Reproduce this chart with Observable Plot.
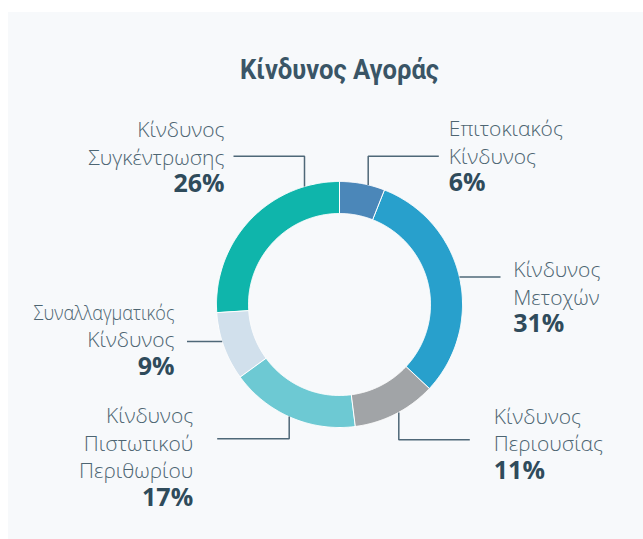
<!DOCTYPE html>
<html><head><meta charset="utf-8">
<script src="https://cdn.jsdelivr.net/npm/d3@7"></script>
<script src="https://cdn.jsdelivr.net/npm/@observablehq/plot@0.6"></script>
<style>
html,body{margin:0;padding:0;background:#fff;}
#wrap{position:relative;width:643px;height:539px;overflow:hidden;}
#panel{position:absolute;left:8px;top:12px;width:635px;height:527px;background:#f7f9fb;}
#chart{position:absolute;left:0;top:0;}
</style></head><body>
<div id="wrap"><div id="panel"></div><div id="chart"></div></div>
<script>
// ---- data ----
const title = "Κίνδυνος Αγοράς";
const categories = ["Επιτοκιακός Κίνδυνος","Κίνδυνος Μετοχών","Κίνδυνος Περιουσίας","Κίνδυνος Πιστωτικού Περιθωρίου","Συναλλαγματικός Κίνδυνος","Κίνδυνος Συγκέντρωσης"];
const labelTexts = ["Επιτοκιακός\nΚίνδυνος","Κίνδυνος\nΜετοχών","Κίνδυνος\nΠεριουσίας","Κίνδυνος\nΠιστωτικού\nΠεριθωρίου","Συναλλαγματικός\nΚίνδυνος","Κίνδυνος\nΣυγκέντρωσης"];
const values = [6, 31, 11, 17, 9, 26];
const colors = ["#4b87b9","#28a0cc","#a1a4a7","#6dc9d3","#d1e0ec","#0fb5ab"];

// ---- layout (pixels relative to donut centre) ----
const R = 123, r = 91;
const labelPos = [
  {x: 109.3, y: -113.3, anchor: "start"},
  {x: 173.7, y: 27.7, anchor: "start"},
  {x: 154.3, y: 174.3, anchor: "start"},
  {x: -146.3, y: 201, anchor: "end"},
  {x: -165, y: 70.3, anchor: "end"},
  {x: -115, y: -112.3, anchor: "end"}
];
const connectorPaths = [
  [[28.7,-119.6],[28.7,-148.3],[99.3,-148.3]],
  [[120,-27.5],[161,-27.5]],
  [[59.3,108],[59.3,135.3],[130.3,135.3]],
  [[-50.3,112],[-50.3,134.3],[-122.3,134.3]],
  [[-117.3,37],[-152.5,37]],
  [[-35,-118],[-35,-148.3],[-106,-148.3]]
];
const titlePos = {x: 0, y: -225.7};
const lineGap = 27.5, labelSize = 21, pctSize = 25;

// ---- derived ----
const total = d3.sum(values);
let acc = 0;
const ring = [];
values.forEach((v, i) => {
  const a0 = acc / total * 2 * Math.PI, a1 = (acc + v) / total * 2 * Math.PI; acc += v;
  const n = Math.max(2, Math.ceil((a1 - a0) / (Math.PI / 360)));
  const angs = d3.range(n + 1).map(k => a0 + (a1 - a0) * k / n);
  angs.forEach(a => ring.push({cat: categories[i], x: R * Math.sin(a), y: -R * Math.cos(a)}));
  angs.slice().reverse().forEach(a => ring.push({cat: categories[i], x: r * Math.sin(a), y: -r * Math.cos(a)}));
});
const labels = categories.map((c, i) => ({
  cat: c, text: labelTexts[i], pct: values[i] + "%",
  x: labelPos[i].x, y: labelPos[i].y, anchor: labelPos[i].anchor
}));
const conn = connectorPaths.flatMap((p, i) => p.map(([x, y]) => ({id: i, x, y})));

const labelFont = "'Open Sans', 'Noto Sans', sans-serif";
const chart = Plot.plot({
  width: 643, height: 539, margin: 0,
  style: {background: "transparent"},
  x: {domain: [-339, 304], range: [0, 643], axis: null},
  y: {domain: [-304, 235], range: [0, 539], axis: null},
  color: {domain: categories, range: colors},
  marks: [
    Plot.line(ring, {x: "x", y: "y", z: "cat", fill: "cat", stroke: "white", strokeWidth: 1, curve: "linear-closed"}),
    Plot.line(conn, {x: "x", y: "y", z: "id", stroke: "#4f6878", strokeWidth: 1.5, strokeLinecap: "butt", strokeLinejoin: "miter"}),
    Plot.text([title], {x: () => titlePos.x, y: () => titlePos.y, text: d => d, lineAnchor: "bottom",
      fontFamily: "Roboto, 'Open Sans', sans-serif", fontWeight: 700, fontSize: 28, fill: "#3a5566"}),
    ...["start", "end"].map(anc => Plot.text(labels.filter(d => d.anchor === anc), {
      x: "x", y: d => d.y - lineGap, text: "text", textAnchor: anc, lineAnchor: "bottom",
      lineHeight: lineGap / labelSize, fontFamily: labelFont, fontWeight: 300, fontSize: labelSize, fill: "#4d6572"})),
    ...["start", "end"].map(anc => Plot.text(labels.filter(d => d.anchor === anc), {
      x: "x", y: "y", text: "pct", textAnchor: anc, lineAnchor: "bottom",
      fontFamily: labelFont, fontWeight: 700, fontSize: pctSize, fill: "#2f4b5b"}))
  ]
});
// condense the title and the long label line, as in the reference typography
d3.select(chart).selectAll("text").filter(function () { return this.textContent === title; })
  .attr("textLength", 199).attr("lengthAdjust", "spacingAndGlyphs");
d3.select(chart).selectAll("tspan").filter(function () { return this.textContent === "Συναλλαγματικός"; })
  .attr("textLength", 141).attr("lengthAdjust", "spacingAndGlyphs");
document.getElementById("chart").appendChild(chart);
</script>
</body></html>
